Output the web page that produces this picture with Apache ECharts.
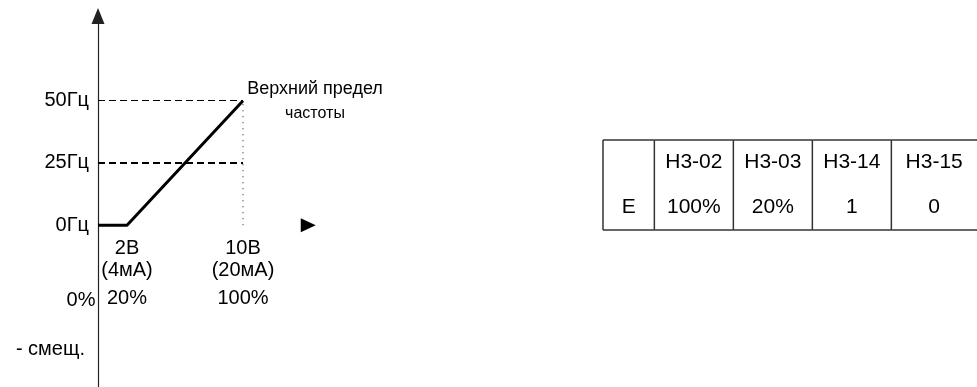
<!DOCTYPE html>
<html>
<head>
<meta charset="utf-8">
<script src="https://cdn.jsdelivr.net/npm/echarts@6/dist/echarts.min.js"></script>
<style>
  html, body { margin: 0; padding: 0; background: #fff; }
  #chart { width: 977px; height: 387px; }
</style>
</head>
<body>
<div id="chart"></div>
<script>
// вход (%) -> выходная частота (Гц)
const inputPct = [0, 20, 100]
const freqHz = [0, 0, 50]
const refFreqs = [50, 25]
const upperX = 100
const yTickValues = [50, 25, 0, -50]
const yTickLabels = ['50Гц', '25Гц', '0Гц', '- смещ.']
const xTickValues = [0, 20, 100]
const xTickVolts = ['', '2В', '10В']
const xTickAmps = ['', '(4мА)', '(20мА)']
const xTickPct = ['0%', '20%', '100%']
const upperLabel = ['Верхний предел', 'частоты']
// таблица параметров
const tableHead = ['', 'H3-02', 'H3-03', 'H3-14', 'H3-15']
const tableRow = ['E', '100%', '20%', '1', '0']

// разметка таблицы (в единицах оси)
const colEdges = [0, 0.65, 1.65, 2.65, 3.65]
const tableMax = 4.734
const FONT = '"Liberation Sans", Arial, sans-serif'

let chart = echarts.init(document.getElementById('chart'))

let xLabel = function (value) {
  let i = xTickValues.indexOf(value)
  if (i < 0) return ''
  if (!xTickVolts[i]) return '{a| }\n{a| }\n{z|' + xTickPct[i] + '}'
  return '{a|' + xTickVolts[i] + '}\n{a|' + xTickAmps[i] + '}\n{p|' + xTickPct[i] + '}'
}

let labelRich = {
  a: { fontSize: 20, lineHeight: 22, color: '#000' },
  p: { fontSize: 20, lineHeight: 34, color: '#000' },
  z: { fontSize: 20, lineHeight: 38, color: '#000', padding: [0, 34, 0, 0] }
}

// ось только для подписей (на уровне 0 Гц)
let labelAxis = function (gridIndex, values) {
  return {
    gridIndex: gridIndex,
    type: 'value',
    min: 0,
    max: 145,
    axisLine: { show: false },
    axisTick: { show: false },
    splitLine: { show: false },
    axisLabel: {
      customValues: values,
      showMinLabel: true,
      showMaxLabel: true,
      hideOverlap: false,
      margin: 12,
      color: '#000',
      formatter: xLabel,
      rich: labelRich
    }
  }
}

let line = function (x1, y1, x2, y2) {
  return { type: 'line', shape: { x1: x1, y1: y1, x2: x2, y2: y2 }, style: { stroke: '#333', lineWidth: 1.5 } }
}

let cellText = function (text, x, y) {
  return {
    type: 'text',
    style: { text: text, x: x, y: y, align: 'center', verticalAlign: 'middle', fill: '#000', font: '21px ' + FONT }
  }
}

let labelGrid = { left: 98, top: 16, width: 210.25, height: 209.2, outerBoundsMode: 'none' }

chart.setOption({
  animation: false,
  textStyle: { fontFamily: FONT },
  grid: [
    { left: 98, top: 16, width: 210.25, bottom: 0, outerBoundsMode: 'none' },
    { left: 603, top: 140, right: 0, height: 90, outerBoundsMode: 'none' },
    labelGrid,
    Object.assign({}, labelGrid)
  ],
  xAxis: [
    {
      type: 'value',
      min: 0,
      max: 145,
      axisLine: {
        show: true,
        onZero: true,
        symbol: ['none', 'triangle'],
        symbolSize: [14, 15],
        lineStyle: { color: '#000', width: 0 }
      },
      axisTick: { show: false },
      splitLine: { show: false },
      axisLabel: { show: false }
    },
    { gridIndex: 1, type: 'value', min: 0, max: tableMax, show: false },
    labelAxis(2, xTickValues.slice(1)),
    labelAxis(3, xTickValues.slice(0, 1))
  ],
  yAxis: [
    {
      type: 'value',
      min: -65,
      max: 84,
      axisLine: {
        show: true,
        symbol: ['none', 'triangle'],
        symbolSize: [13, 16],
        lineStyle: { color: '#222', width: 1.2 }
      },
      axisTick: { show: false },
      splitLine: { show: false },
      axisLabel: {
        customValues: yTickValues,
        showMinLabel: true,
        margin: 9,
        fontSize: 20,
        color: '#000',
        formatter: function (v) {
          let i = yTickValues.indexOf(v)
          if (i < 0) return ''
          return v < 0 ? '{s|' + yTickLabels[i] + '}' : yTickLabels[i]
        },
        rich: { s: { fontSize: 20, color: '#000', padding: [0, 4, 0, 0] } }
      }
    },
    { gridIndex: 1, type: 'value', min: 0, max: 2, show: false },
    { gridIndex: 2, type: 'value', min: 0, max: 1, show: false },
    { gridIndex: 3, type: 'value', min: 0, max: 1, show: false }
  ],
  series: [
    {
      type: 'line',
      data: inputPct.map((x, i) => [x, freqHz[i]]),
      symbol: 'none',
      lineStyle: { color: '#000', width: 3 },
      silent: true,
      z: 5,
      markLine: {
        silent: true,
        symbol: 'none',
        label: { show: false },
        data: [
          [{ coord: [0, refFreqs[0]], lineStyle: { type: [7, 4], width: 1.2, color: '#000' } }, { coord: [upperX, refFreqs[0]] }],
          [{ coord: [0, refFreqs[1]], lineStyle: { type: [7, 4], width: 1.8, color: '#000' } }, { coord: [upperX, refFreqs[1]] }],
          [{ coord: [upperX, 0], lineStyle: { type: [1, 5], width: 1.5, color: '#666' } }, { coord: [upperX, refFreqs[0]] }]
        ]
      },
      markPoint: {
        silent: true,
        symbol: 'circle',
        symbolSize: 0,
        data: [{ coord: [upperX, freqHz[2]] }],
        label: {
          show: true,
          position: 'inside',
          offset: [72, 0],
          align: 'center',
          formatter: '{a|' + upperLabel[0] + '}\n{b|' + upperLabel[1] + '}',
          rich: {
            a: { fontSize: 18, lineHeight: 26, color: '#000', align: 'center' },
            b: { fontSize: 16, lineHeight: 24, color: '#000', align: 'center' }
          }
        }
      }
    },
    {
      type: 'custom',
      xAxisIndex: 1,
      yAxisIndex: 1,
      silent: true,
      data: tableHead.map((h, i) => [i]),
      renderItem: function (params, api) {
        let i = api.value(0)
        let x0 = colEdges[i]
        let x1 = i + 1 < colEdges.length ? colEdges[i + 1] : tableMax
        let tl = api.coord([x0, 2])
        let br = api.coord([x1, 0])
        let mid = api.coord([x0, 1])
        let cx = (tl[0] + br[0]) / 2
        return {
          type: 'group',
          children: [
            line(tl[0], tl[1], tl[0], br[1]),
            line(tl[0], tl[1], br[0], tl[1]),
            line(tl[0], br[1], br[0], br[1]),
            cellText(tableHead[i], cx, (tl[1] + mid[1]) / 2),
            cellText(tableRow[i], cx, (mid[1] + br[1]) / 2)
          ]
        }
      }
    }
  ]
})
</script>
</body>
</html>
